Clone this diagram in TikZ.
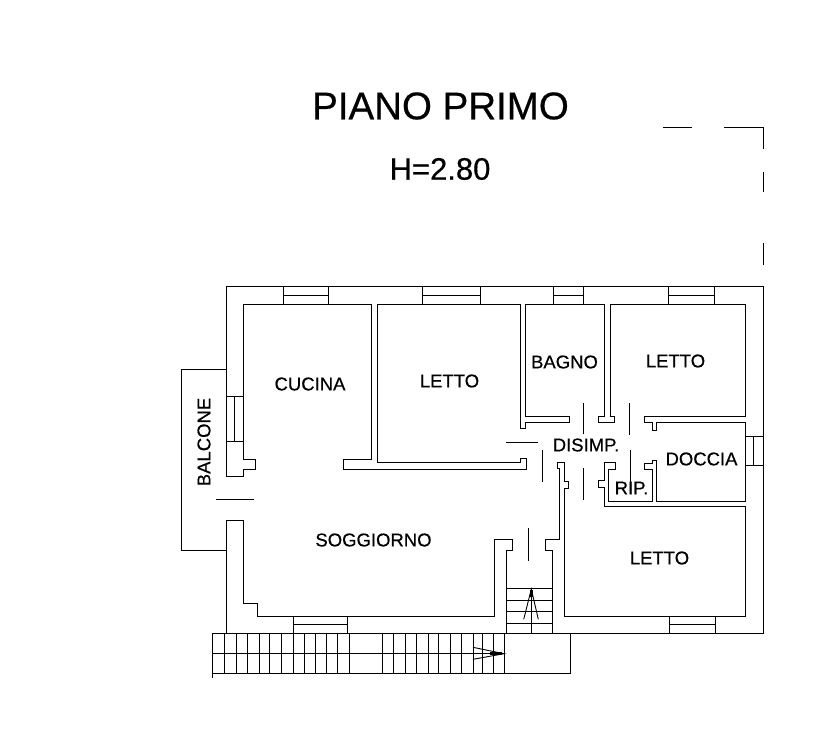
\documentclass[tikz,border=0pt]{standalone}
\usepackage{fontspec}
\setmainfont[FakeBold=0.5]{Liberation Sans}
\tikzset{
  wall/.style={line width=1pt,line join=miter},
  thin wall/.style={line width=0.9pt},
  door/.style={line width=0.9pt},
  label/.style={inner sep=0pt,font=\fontsize{18.5}{18.5}\selectfont},
}
\begin{document}
\begin{tikzpicture}[x=1pt,y=-1pt]
\useasboundingbox (0,0) rectangle (822,734);
% outer wall
\draw[wall] (226,476) -- (226,286) -- (763,286) -- (763,633) -- (213,633);
\draw[wall] (226,476) -- (243,476) -- (243,469) -- (255,469) -- (255,459) -- (243,459) -- (243,304) -- (371,304) -- (371,459) -- (343,459) -- (343,469) -- (526,469) -- (526,458) -- (520,458) -- (520,462) -- (377,462) -- (377,304) -- (520,304) -- (520,428) -- (525.5,428) -- (525.5,422) -- (569,422) -- (569,416) -- (525.5,416) -- (525.5,304) -- (604.3,304) -- (604.3,416) -- (598,416) -- (598,422) -- (614,422) -- (614,416) -- (610,416) -- (610,304) -- (745,304) -- (745,416) -- (644,416) -- (644,422) -- (652,422) -- (652,430) -- (656.7,430) -- (656.7,422) -- (745,422) -- (745,501.7) -- (656.7,501.7) -- (656.7,460) -- (652,460) -- (652,463) -- (644.7,463) -- (644.7,469) -- (652,469) -- (652,501.7) -- (608.3,501.7) -- (608.3,469) -- (615.7,469) -- (615.7,462.7) -- (604.3,462.7) -- (604.3,480) -- (598.3,480) -- (598.3,487.3) -- (604.3,487.3) -- (604.3,506.7) -- (745,506.7) -- (745,616) -- (564,616) -- (564,488.3) -- (568.7,488.3) -- (568.7,481.7) -- (564,481.7) -- (564,462.7) -- (557.7,462.7) -- (557.7,468.5) -- (559.3,468.5) -- (559.3,539) -- (545.3,539) -- (545.3,550) -- (552,550) -- (552,633);
\draw[wall] (506.7,633) -- (506.7,550) -- (512.3,550) -- (512.3,539) -- (494,539) -- (494,616) -- (257,616) -- (257,603) -- (243.3,603) -- (243.3,520.7) -- (226,520.7) -- (226,633);
% balcony
\draw[wall] (226,550.7) -- (181,550.7) -- (181,369) -- (226,369);
% top windows
\foreach \a/\b in {283.5/328.7,422.3/480.3,553.7/583.3,668.7/714.7}{
  \draw[thin wall] (\a,286) rectangle (\b,304) (\a,295) -- (\b,295);
}
% left window
\draw[thin wall] (226,396) rectangle (243,441.7) (234.5,396) -- (234.5,441.7);
% right window
\draw[thin wall] (745,436) rectangle (763,465.3) (753.3,436) -- (753.3,465.3);
% bottom windows
\foreach \a/\b in {293.3/347,669/715}{
  \draw[thin wall] (\a,616) rectangle (\b,633) (\a,624.7) -- (\b,624.7);
}
% door leaves
\draw[door] (216,499) -- (254,499);
\draw[door] (506,442.7) -- (538.3,442.7);
\draw[door] (542,450) -- (542,481.7);
\draw[door] (583,403) -- (583,434);
\draw[door] (583,468) -- (583,500);
\draw[door] (629.3,403) -- (629.3,435);
\draw[door] (630.3,450) -- (630.3,490);
\draw[door] (528.7,528) -- (528.7,560.7);
% inner stair
\foreach \y in {588.3,600,611,623}{
  \draw[thin wall] (506.7,\y) -- (552,\y);
}
\draw[door] (531.3,589) -- (531.3,633);
\draw[door] (523.7,619.3) -- (531.3,589) -- (538.3,619.3);
\draw[line width=2.5pt] (531.3,590) -- (531.3,597);
% outer stair
\draw[wall] (212.7,678) -- (212.7,633);
\draw[wall] (212.7,673.5) -- (570.7,673.5) -- (570.7,633);
\draw[thin wall] (212.7,653.7) -- (504.3,653.7);
\foreach \x in {224,236,247.3,259,269.7,281,293,304,315.7,326,337.7,349,382,393.3,405,416.3,428,438.3,450,461.7,473,482,493,504.3}{
  \draw[thin wall] (\x,633) -- (\x,673.5);
}
\draw[door] (473,647.3) -- (504,653.7) -- (473,659.3);
\draw[line width=2.5pt] (490,653.7) -- (502,653.7);
% dashed outline
\draw[door] (663,127) -- (692,127) (724,127) -- (763,127) -- (763,149) (763,172) -- (763,192) (763,243) -- (763,265);
% texts
\node[inner sep=0pt,font=\fontsize{38.5}{38.5}\selectfont] (title) at (440.5,106) {PIANO PRIMO};
\node[inner sep=0pt,font=\fontsize{31}{31}\selectfont] (height) at (440,169) {H=2.80};
\node[label] (cucina) at (310,384) {CUCINA};
\node[label] (letto1) at (449.5,381) {LETTO};
\node[label] (bagno) at (564.5,362) {BAGNO};
\node[label] (letto2) at (675.5,361) {LETTO};
\node[label] (disimp) at (586,445) {DISIMP.};
\node[label] (doccia) at (701.5,459) {DOCCIA};
\node[label] (rip) at (631.5,488) {RIP.};
\node[label] (letto3) at (659.5,558) {LETTO};
\node[label] (soggiorno) at (373.5,540) {SOGGIORNO};
\node[label,rotate=90] (balcone) at (204,442) {BALCONE};
\end{tikzpicture}
\end{document}
